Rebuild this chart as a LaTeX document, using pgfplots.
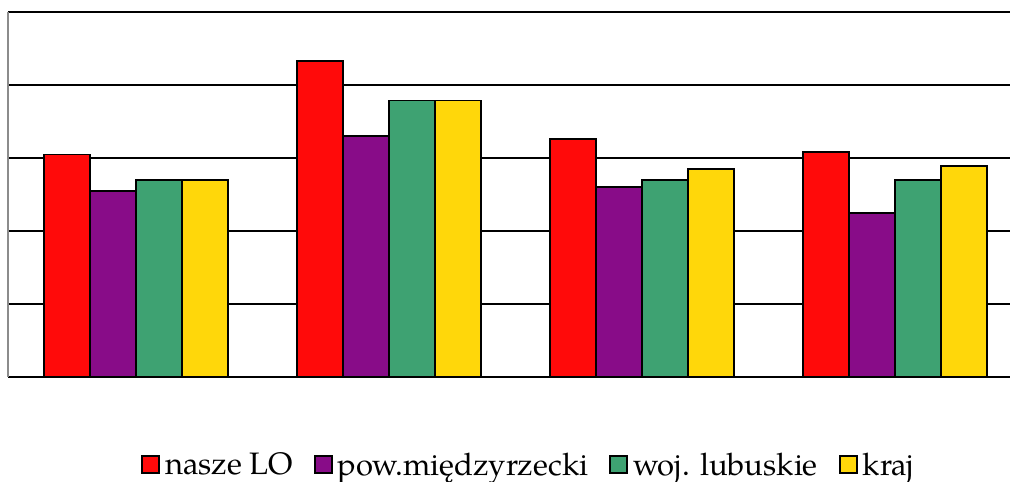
\documentclass[border=0pt]{standalone}
\usepackage{fontspec}
\setmainfont{TeX Gyre Pagella}
\usepackage{pgfplots}
\pgfplotsset{compat=1.18}
\definecolor{cred}{RGB}{255,10,10}
\definecolor{cpurple}{RGB}{136,12,136}
\definecolor{cgreen}{RGB}{62,162,114}
\definecolor{cyellow}{RGB}{255,215,10}
\begin{document}
\begin{tikzpicture}
\useasboundingbox (-8bp,-105bp) rectangle (1002bp,377bp);
\begin{axis}[
  scale only axis, width=1002bp, height=365bp,
  xmin=-0.506, xmax=3.454, ymin=0, ymax=5,
  ybar=0pt, bar width=46bp,
  xtick=\empty, ytick={1,2,3,4,5}, yticklabels={},
  ymajorgrids, major grid style={black, line width=2.6bp},
  axis x line*=bottom, axis y line*=left,
  x axis line style={black, line width=2.6bp, -},
  y axis line style={black!45, line width=2bp, -},
  major tick length=0pt, ytick style={draw=none},
  legend columns=4,
  legend style={at={(0.521,-0.24)}, anchor=center, draw=none, fill=none,
    font=\fontsize{31bp}{36bp}\selectfont,
    nodes={inner xsep=5bp},
    /tikz/every even column/.append style={column sep=16bp}},
  legend image code/.code={\draw[#1,draw=black,line width=2bp] (0bp,-8bp) rectangle (17bp,9bp);},
]
\addplot[fill=cred, draw=black, line width=1.5bp] coordinates {(0,3.05) (1,4.33) (2,3.26) (3,3.08)};
\addplot[fill=cpurple, draw=black, line width=1.5bp] coordinates {(0,2.55) (1,3.30) (2,2.60) (3,2.25)};
\addplot[fill=cgreen, draw=black, line width=1.5bp] coordinates {(0,2.70) (1,3.79) (2,2.70) (3,2.70)};
\addplot[fill=cyellow, draw=black, line width=1.5bp] coordinates {(0,2.70) (1,3.79) (2,2.85) (3,2.89)};
\legend{nasze LO, pow.międzyrzecki, woj. lubuskie, kraj}
\end{axis}
\end{tikzpicture}
\end{document}
